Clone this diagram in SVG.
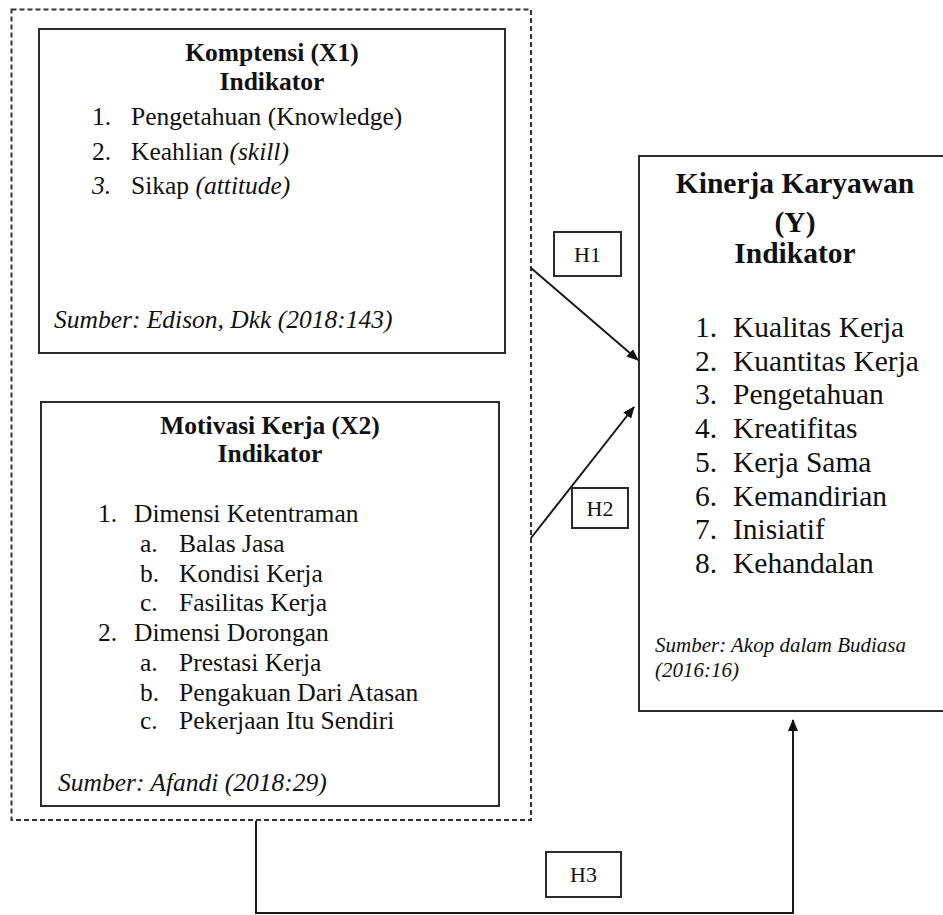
<svg xmlns="http://www.w3.org/2000/svg" width="943" height="915" viewBox="0 0 943 915">
<style>
.box{fill:#fff;stroke:#2b2b2b;stroke-width:2}
.dash{fill:none;stroke:#333;stroke-width:2;stroke-dasharray:5 3}
.ln{fill:none;stroke:#1a1a1a;stroke-width:2}
.t{font-family:"Liberation Serif","Times New Roman",serif;fill:#111}
.b{font-weight:bold}
.i{font-style:italic}
.s25{font-size:25.5px}
.s30{font-size:29.5px}
.s21{font-size:21px}
.s22{font-size:22px}
.c{text-anchor:middle}
</style>
<defs>
<marker id="ah" markerWidth="12" markerHeight="10" refX="11" refY="5" orient="auto" markerUnits="userSpaceOnUse">
<path d="M0,0 L12,5 L0,10 Z" fill="#111"/>
</marker>
</defs>
<rect width="943" height="915" fill="#fff"/>
<g id="group-x">
<rect class="dash" x="11.5" y="9.5" width="519.5" height="810.5"/>
</g>
<g id="connectors">
<line class="ln" x1="531" y1="268" x2="638" y2="360" marker-end="url(#ah)"/>
<line class="ln" x1="531" y1="538" x2="634" y2="407" marker-end="url(#ah)"/>
<polyline class="ln" points="256,821 256,913 793,913 793,720" marker-end="url(#ah)"/>
</g>
<g id="komptensi">
<rect class="box" x="39" y="29" width="466" height="324"/>
<text class="t b s25 c" x="272" y="61">Komptensi (X1)</text>
<text class="t b s25 c" x="272" y="90">Indikator</text>
<text class="t s25" x="92" y="125">1.</text>
<text class="t s25" x="131" y="125">Pengetahuan (Knowledge)</text>
<text class="t s25" x="92" y="160">2.</text>
<text class="t s25" x="131" y="160">Keahlian <tspan class="i">(skill)</tspan></text>
<text class="t s25 i" x="92" y="194">3.</text>
<text class="t s25" x="131" y="194">Sikap <tspan class="i">(attitude)</tspan></text>
<text class="t s25 i" x="54" y="328">Sumber: Edison, Dkk (2018:143)</text>
</g>
<g id="motivasi">
<rect class="box" x="41" y="402" width="458" height="404"/>
<text class="t b s25 c" x="270" y="434">Motivasi Kerja (X2)</text>
<text class="t b s25 c" x="270" y="462">Indikator</text>
<text class="t s25" x="98" y="522">1.</text>
<text class="t s25" x="134" y="522">Dimensi Ketentraman</text>
<text class="t s25" x="140" y="552">a.</text>
<text class="t s25" x="179" y="552">Balas Jasa</text>
<text class="t s25" x="140" y="582">b.</text>
<text class="t s25" x="179" y="582">Kondisi Kerja</text>
<text class="t s25" x="140" y="611">c.</text>
<text class="t s25" x="179" y="611">Fasilitas Kerja</text>
<text class="t s25" x="98" y="641">2.</text>
<text class="t s25" x="134" y="641">Dimensi Dorongan</text>
<text class="t s25" x="140" y="671">a.</text>
<text class="t s25" x="179" y="671">Prestasi Kerja</text>
<text class="t s25" x="140" y="701">b.</text>
<text class="t s25" x="179" y="701">Pengakuan Dari Atasan</text>
<text class="t s25" x="140" y="729">c.</text>
<text class="t s25" x="179" y="729">Pekerjaan Itu Sendiri</text>
<text class="t s25 i" x="58" y="791">Sumber: Afandi (2018:29)</text>
</g>
<g id="kinerja">
<rect class="box" x="639" y="156" width="320" height="555"/>
<text class="t b s30 c" x="795" y="193">Kinerja Karyawan</text>
<text class="t b s30 c" x="795" y="232">(Y)</text>
<text class="t b s30 c" x="795" y="263">Indikator</text>
<text class="t s30" x="695" y="337">1.</text><text class="t s30" x="733" y="337">Kualitas Kerja</text>
<text class="t s30" x="695" y="371">2.</text><text class="t s30" x="733" y="371">Kuantitas Kerja</text>
<text class="t s30" x="695" y="404">3.</text><text class="t s30" x="733" y="404">Pengetahuan</text>
<text class="t s30" x="695" y="438">4.</text><text class="t s30" x="733" y="438">Kreatifitas</text>
<text class="t s30" x="695" y="472">5.</text><text class="t s30" x="733" y="472">Kerja Sama</text>
<text class="t s30" x="695" y="506">6.</text><text class="t s30" x="733" y="506">Kemandirian</text>
<text class="t s30" x="695" y="539">7.</text><text class="t s30" x="733" y="539">Inisiatif</text>
<text class="t s30" x="695" y="573">8.</text><text class="t s30" x="733" y="573">Kehandalan</text>
<text class="t s21 i" x="655" y="652">Sumber: Akop dalam Budiasa</text>
<text class="t s21 i" x="655" y="677">(2016:16)</text>
</g>
<g id="h1">
<rect class="box" x="554" y="232" width="67" height="44"/>
<text class="t s22 c" x="587.5" y="262">H1</text>
</g>
<g id="h2">
<rect class="box" x="572" y="488" width="56" height="40"/>
<text class="t s22 c" x="600" y="516">H2</text>
</g>
<g id="h3">
<rect class="box" x="546" y="852" width="75" height="45"/>
<text class="t s22 c" x="583.5" y="882">H3</text>
</g>
</svg>
